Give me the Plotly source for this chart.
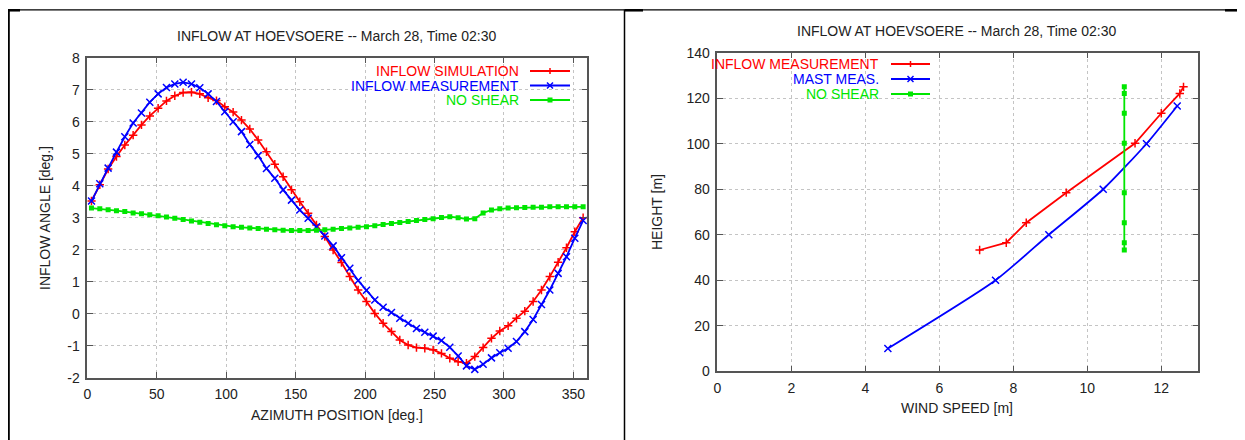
import plotly.graph_objects as go

# ---------------- data: left chart ----------------
azimuth = [3, 9, 15, 21, 27, 33, 39, 45, 51, 57, 63, 69, 75, 81, 87, 93, 99, 105, 111, 117,
           123, 129, 135, 141, 147, 153, 159, 165, 171, 177, 183, 189, 195, 201, 207, 213,
           219, 225, 231, 237, 243, 249, 255, 261, 267, 273, 279, 285, 291, 297, 303, 309,
           315, 321, 327, 333, 339, 345, 351, 357]
inflow_sim = [3.52, 4.03, 4.52, 4.91, 5.27, 5.58, 5.90, 6.18, 6.42, 6.65, 6.81, 6.91, 6.92, 6.87,
              6.75, 6.66, 6.47, 6.30, 6.05, 5.77, 5.43, 5.06, 4.67, 4.28, 3.87, 3.50, 3.14, 2.77,
              2.41, 1.99, 1.60, 1.16, 0.74, 0.38, 0.01, -0.30, -0.56, -0.82, -0.98, -1.06, -1.08,
              -1.13, -1.24, -1.39, -1.50, -1.55, -1.34, -1.06, -0.77, -0.54, -0.38, -0.14, 0.08,
              0.38, 0.74, 1.16, 1.61, 2.06, 2.56, 3.00]
inflow_meas = [3.52, 4.06, 4.55, 5.05, 5.53, 5.96, 6.27, 6.61, 6.87, 7.07, 7.18, 7.23, 7.18, 7.06,
               6.87, 6.63, 6.31, 6.00, 5.69, 5.29, 4.94, 4.54, 4.23, 3.87, 3.55, 3.24, 2.98, 2.72,
               2.43, 2.12, 1.75, 1.42, 1.04, 0.73, 0.43, 0.20, 0.04, -0.14, -0.30, -0.46, -0.58,
               -0.70, -0.84, -1.05, -1.32, -1.63, -1.74, -1.58, -1.38, -1.22, -1.08, -0.87, -0.56,
               -0.18, 0.29, 0.74, 1.26, 1.78, 2.36, 2.91]
no_shear_left = [3.30, 3.28, 3.25, 3.22, 3.19, 3.15, 3.12, 3.09, 3.06, 3.02, 2.98, 2.94, 2.90,
                 2.86, 2.82, 2.78, 2.75, 2.72, 2.70, 2.68, 2.66, 2.64, 2.62, 2.61, 2.60, 2.60,
                 2.60, 2.61, 2.62, 2.64, 2.66, 2.68, 2.70, 2.72, 2.75, 2.79, 2.82, 2.85, 2.88,
                 2.91, 2.94, 2.97, 3.01, 3.03, 3.00, 2.96, 2.97, 3.15, 3.24, 3.28, 3.30, 3.31,
                 3.32, 3.33, 3.33, 3.34, 3.34, 3.34, 3.34, 3.34]
angle_ticks = [-2, -1, 0, 1, 2, 3, 4, 5, 6, 7, 8]
angle_tick_labels = ["-2", "-1", "0", "1", "2", "3", "4", "5", "6", "7", "8"]

# ---------------- data: right chart ----------------
inflow_meas_speed = [7.09, 7.81, 8.35, 9.43, 11.29, 12.0, 12.5, 12.6]
inflow_meas_height = [53.3, 56.5, 65.3, 78.5, 100.2, 113.4, 122.1, 125.0]
mast_speed = [4.61, 7.52, 8.96, 10.43, 11.6, 12.43]
mast_height = [10, 40, 60, 80, 100, 116.6]
no_shear_speed = [11.0, 11.0, 11.0, 11.0, 11.0, 11.0, 11.0, 11.0]
no_shear_height = [53.3, 56.5, 65.3, 78.5, 100.2, 113.4, 122.1, 125.0]

title_text = "INFLOW AT HOEVSOERE -- March 28, Time 02:30"
left_legend = ["INFLOW SIMULATION", "INFLOW MEASUREMENT", "NO SHEAR"]
right_legend = ["INFLOW MEASUREMENT", "MAST MEAS.", "NO SHEAR"]

RED, BLUE, GREEN = "#ff0000", "#0000ff", "#00e600"
TXT = "#222222"
FONT = "Liberation Sans, Arial, Helvetica, sans-serif"
W, H = 1245, 440
OFF = 8  # page body margin


def px(x):
    return (x - OFF) / W


def py(y):
    return 1 - (y - OFF) / H


fig = go.Figure()

# left chart traces
fig.add_trace(go.Scatter(x=azimuth, y=inflow_sim, mode="lines+markers", xaxis="x", yaxis="y",
                         line=dict(color=RED, width=1.8),
                         marker=dict(symbol="cross-thin", size=6, line=dict(color=RED, width=1.5))))
fig.add_trace(go.Scatter(x=azimuth, y=inflow_meas, mode="lines+markers", xaxis="x", yaxis="y",
                         line=dict(color=BLUE, width=1.8),
                         marker=dict(symbol="x-thin", size=7, line=dict(color=BLUE, width=1.5))))
fig.add_trace(go.Scatter(x=azimuth, y=no_shear_left, mode="lines+markers", xaxis="x", yaxis="y",
                         line=dict(color=GREEN, width=1.8),
                         marker=dict(symbol="square", size=5, color=GREEN)))

# right chart traces
fig.add_trace(go.Scatter(x=inflow_meas_speed, y=inflow_meas_height, mode="lines+markers",
                         xaxis="x2", yaxis="y2", line=dict(color=RED, width=1.8),
                         marker=dict(symbol="cross-thin", size=6, line=dict(color=RED, width=1.5))))
fig.add_trace(go.Scatter(x=mast_speed, y=mast_height, mode="lines+markers",
                         xaxis="x2", yaxis="y2", line=dict(color=BLUE, width=1.8, shape="spline", smoothing=0.6),
                         marker=dict(symbol="x-thin", size=7, line=dict(color=BLUE, width=1.5))))
fig.add_trace(go.Scatter(x=no_shear_speed, y=no_shear_height, mode="lines+markers",
                         xaxis="x2", yaxis="y2", line=dict(color=GREEN, width=1.8),
                         marker=dict(symbol="square", size=5, color=GREEN)))

axis_common = dict(showline=True, linecolor="#555555", linewidth=1.5, mirror="allticks",
                   ticks="inside", ticklen=6, tickwidth=1, tickcolor="#555555",
                   showgrid=True, gridcolor="#c4c4c4", gridwidth=1, griddash="dot",
                   zeroline=False, tickfont=dict(family=FONT, size=14, color=TXT),
                   fixedrange=True, automargin=False, ticklabelstandoff=3)

fig.update_layout(
    template="none",
    width=W, height=H, autosize=False,
    margin=dict(l=0, r=0, t=0, b=0, pad=0, autoexpand=False),
    paper_bgcolor="white", plot_bgcolor="white",
    showlegend=False,
    font=dict(family=FONT, size=14, color=TXT),
    xaxis=dict(domain=[px(87.3), px(587.3)], range=[0, 360], dtick=50, anchor="y", **axis_common),
    yaxis=dict(domain=[py(377.7), py(57.7)], range=[-2, 8], tickmode="array",
               tickvals=angle_ticks, ticktext=angle_tick_labels, anchor="x", **axis_common),
    xaxis2=dict(domain=[px(717.3), px(1198.3)], range=[0, 13], dtick=2, anchor="y2", **axis_common),
    yaxis2=dict(domain=[py(371.3), py(52.7)], range=[0, 140], dtick=20, anchor="x2", **axis_common),
)

annotations = []
shapes = []


def text(x, y, s, color=TXT, angle=0, xanchor="center"):
    annotations.append(dict(x=px(x), y=py(y), xref="paper", yref="paper", text=s,
                            showarrow=False, textangle=angle, xanchor=xanchor, yanchor="middle",
                            font=dict(family=FONT, size=14, color=color)))


# titles and axis titles
text(336, 36, title_text)
text(957, 31, title_text)
text(337, 415, "AZIMUTH POSITION [deg.]")
text(957, 408, "WIND SPEED [m]")
text(45, 218, "INFLOW ANGLE [deg.]", angle=-90)
text(657, 212, "HEIGHT [m]", angle=-90)


def legend_key(x0, x1, y, color, kind):
    shapes.append(dict(type="line", xref="paper", yref="paper", x0=px(x0), x1=px(x1),
                       y0=py(y), y1=py(y), line=dict(color=color, width=1.8)))
    cx = (x0 + x1) / 2
    if kind == "plus":
        shapes.append(dict(type="line", xref="paper", yref="paper", x0=px(cx), x1=px(cx),
                           y0=py(y - 3), y1=py(y + 3), line=dict(color=color, width=1.5)))
    elif kind == "x":
        shapes.append(dict(type="line", xref="paper", yref="paper", x0=px(cx - 3), x1=px(cx + 3),
                           y0=py(y - 3), y1=py(y + 3), line=dict(color=color, width=1.5)))
        shapes.append(dict(type="line", xref="paper", yref="paper", x0=px(cx - 3), x1=px(cx + 3),
                           y0=py(y + 3), y1=py(y - 3), line=dict(color=color, width=1.5)))
    else:
        shapes.append(dict(type="rect", xref="paper", yref="paper", x0=px(cx - 2.5), x1=px(cx + 2.5),
                           y0=py(y - 2.5), y1=py(y + 2.5), fillcolor=color, line=dict(width=0)))


colors = [RED, BLUE, GREEN]
kinds = ["plus", "x", "square"]
for i, (lab, c, k) in enumerate(zip(left_legend, colors, kinds)):
    y = 71 + i * 14.5
    text(521, y, lab, color=c, xanchor="right")
    legend_key(530, 570, y, c, k)
for i, (lab, c, k) in enumerate(zip(right_legend, colors, kinds)):
    y = 64 + i * 15
    text(881, y, lab, color=c, xanchor="right")
    legend_key(891, 930, y, c, k)

# table borders (thin lines, with short heavier pieces as in the source)
for (x0, y0, x1, y1, w) in [(8, 9.8, 1245, 9.8, 1.3), (8.8, 9.5, 8.8, 448, 2), (624.5, 9.5, 624.5, 448, 1.5),
                            (8, 10.3, 20, 10.3, 2.5), (625, 10.3, 643, 10.3, 2.5),
                            (1225, 10.3, 1253, 10.3, 2.5)]:
    shapes.append(dict(type="line", xref="paper", yref="paper", x0=px(x0), x1=px(x1),
                       y0=py(y0), y1=py(y1), line=dict(color="black", width=w)))

fig.update_layout(annotations=annotations, shapes=shapes)
fig.write_html("out.html")
